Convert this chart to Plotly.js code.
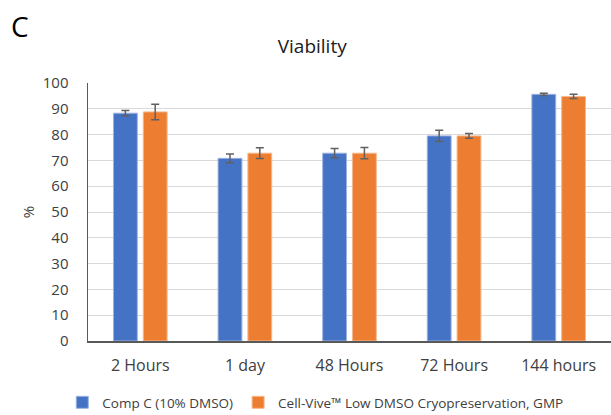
<!DOCTYPE html>
<html>
<head>
<meta charset="utf-8">
<script src="https://cdn.plot.ly/plotly-3.0.1.min.js"></script>
<style>html,body{margin:0;padding:0;background:#fff;}#chart{width:611px;height:415px;}</style>
</head>
<body>
<div id="chart"></div>
<script>
const categories = ["2 Hours", "1 day", "48 Hours", "72 Hours", "144 hours"];
const compC = [88.3, 70.8, 72.8, 79.5, 95.6];
const compCErr = [1.0, 1.7, 1.8, 2.2, 0.4];
const cellVive = [88.8, 72.8, 72.8, 79.5, 94.8];
const cellViveErr = [3.0, 2.1, 2.2, 0.9, 0.8];
const seriesNames = ["Comp C (10% DMSO)", "Cell-Vive\u2122 Low DMSO Cryopreservation, GMP"];
const yTicks = [0,10,20,30,40,50,60,70,80,90,100];

const font = "Open Sans, Liberation Sans, sans-serif";
const errStyle = {type:'data', visible:true, color:'#606060', thickness:1.5, width:4};

const traces = [
  {type:'bar', name:seriesNames[0], x:categories, y:compC,
   error_y:Object.assign({array:compCErr}, errStyle),
   marker:{color:'#4472C4', line:{color:'#9db3e0', width:1}}},
  {type:'bar', name:seriesNames[1], x:categories, y:cellVive,
   error_y:Object.assign({array:cellViveErr}, errStyle),
   marker:{color:'#ED7D31', line:{color:'#f5b98e', width:1}}}
];

const layout = {
  width:611, height:415,
  margin:{l:88, r:0, t:83, b:74},
  paper_bgcolor:'#fff', plot_bgcolor:'#fff',
  font:{family:font, size:15, color:'#404040'},
  barmode:'group', bargap:0.43, bargroupgap:0.2,
  title:{text:'Viability', font:{family:font, size:19, color:'#202020'},
         xref:'container', x:0.511, xanchor:'center', yref:'container', y:0.888, yanchor:'middle'},
  xaxis:{tickfont:{size:16, color:'#404040'}, showline:true, linecolor:'#595959', linewidth:1.5,
         ticks:'outside', ticklen:9, tickcolor:'rgba(0,0,0,0)', showgrid:false},
  yaxis:{range:[0,100], tickvals:yTicks, ticktext:yTicks.map(String),
         tickfont:{size:15, color:'#404040'}, showline:true, linecolor:'#595959', linewidth:1.5,
         showgrid:true, gridcolor:'#d9d9d9', gridwidth:1, zeroline:false,
         ticks:'outside', ticklen:15, tickcolor:'rgba(0,0,0,0)',
         title:{text:'%', font:{size:15, color:'#404040'}, standoff:4}},
  showlegend:true,
  legend:{orientation:'h', xref:'container', x:0.516, xanchor:'center', yref:'container', y:0.03, yanchor:'middle',
          font:{size:13.5, color:'#404040'}, itemwidth:30, tracegroupgap:0},
  annotations:[{text:'C', xref:'paper', yref:'paper', x:-0.130, y:1.219, xanchor:'center', yanchor:'middle',
                showarrow:false, font:{family:font, size:28, color:'#000'}}]
};
Plotly.newPlot('chart', traces, layout, {displayModeBar:false, staticPlot:true});
</script>
</body>
</html>
